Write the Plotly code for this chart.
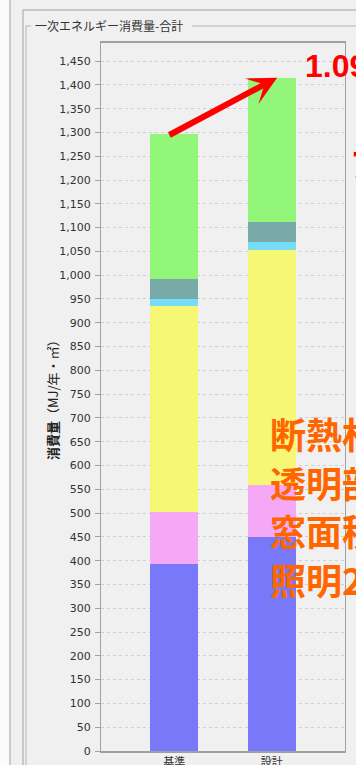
import plotly.graph_objects as go

# Primary energy consumption per floor area (MJ/年・㎡), stacked by end use
categories = ["基準", "設計"]
series_names = ["空調", "換気", "照明", "給湯", "昇降機", "その他"]
base_values = [393, 109, 433, 16, 41, 305]
design_values = [450, 109, 495, 16, 41, 304]
series_colors = ["#7878f8", "#f5a8f5", "#f7f776", "#78dcf7", "#78aaaa", "#92f778"]

y_tick_step = 50
y_max = 1488

notes = ["断熱材なし", "透明部", "窓面積", "照明20%"]

W, H = 356, 765
ML, MR, MT, MB = 101, 11, 43, 14
PW, PH = W - ML - MR, H - MT - MB


def px(x):
    return (x - ML) / PW


def py(y):
    return (H - MB - y) / PH


fig = go.Figure()
for name, color, b, d in zip(series_names, series_colors, base_values, design_values):
    fig.add_trace(go.Bar(
        x=categories, y=[b, d], name=name,
        marker=dict(color=color, line=dict(width=0)),
        width=0.49,
    ))

base_total = sum(base_values)
design_total = sum(design_values)
ratio = design_total / base_total

annotations = []
# Arrow from the reference total up to the design total
annotations.append(dict(
    x=1.055, y=design_total, xref="x", yref="y",
    ax=-0.065, ay=base_total - 4, axref="x", ayref="y",
    showarrow=True, arrowhead=3, arrowsize=0.8, arrowwidth=6,
    arrowcolor="#ff0000", text="",
))
annotations.append(dict(
    x=px(303), y=py(66), xref="paper", yref="paper",
    xanchor="left", yanchor="middle", showarrow=False,
    text=f"<b>{ratio:.2f}倍</b>",
    font=dict(family="Liberation Sans, Arial", size=32, color="#ff0000"),
))
annotations.append(dict(
    x=px(348), y=py(163), xref="paper", yref="paper",
    xanchor="left", yanchor="middle", showarrow=False,
    text="<b>アップ</b>",
    font=dict(family="Noto Sans CJK JP", size=34, color="#ff0000"),
))
for i, line in enumerate(notes):
    annotations.append(dict(
        x=px(268), y=py(433 + i * 48.7), xref="paper", yref="paper",
        xanchor="left", yanchor="middle", showarrow=False,
        text=f"<b>{line}</b>",
        font=dict(family="Noto Sans CJK JP", size=36, color="#ff6600"),
    ))
# Group box caption
annotations.append(dict(
    x=px(33), y=py(25), xref="paper", yref="paper",
    xanchor="left", yanchor="middle", showarrow=False,
    text="一次エネルギー消費量-合計",
    font=dict(family="Noto Sans CJK JP", size=12, color="#333333"),
))
# Y axis title
annotations.append(dict(
    x=px(52), y=0.5, xref="paper", yref="paper",
    xanchor="center", yanchor="middle", showarrow=False, textangle=-90,
    text="<b>消費量</b>（MJ/年・㎡）",
    font=dict(family="Noto Sans CJK JP", size=13, color="#222222"),
))

frame = "#a0a0a0"
shapes = [
    dict(type="rect", xref="paper", yref="paper", x0=px(0), x1=px(10), y0=py(0), y1=py(H),
         fillcolor="#fbfbfb", line=dict(width=0), layer="below"),
    dict(type="line", xref="paper", yref="paper", x0=px(10), x1=px(10), y0=py(0), y1=py(H),
         line=dict(color=frame, width=1)),
    dict(type="line", xref="paper", yref="paper", x0=px(23), x1=px(23), y0=py(10), y1=py(H),
         line=dict(color=frame, width=1)),
    dict(type="line", xref="paper", yref="paper", x0=px(23), x1=px(W), y0=py(10), y1=py(10),
         line=dict(color=frame, width=1)),
    dict(type="line", xref="paper", yref="paper", x0=px(26), x1=px(26), y0=py(26), y1=py(H),
         line=dict(color="#b4b4b4", width=1)),
    dict(type="line", xref="paper", yref="paper", x0=px(26), x1=px(31), y0=py(26), y1=py(26),
         line=dict(color="#b4b4b4", width=1)),
    dict(type="line", xref="paper", yref="paper", x0=px(192), x1=px(W), y0=py(26), y1=py(26),
         line=dict(color="#b4b4b4", width=1)),
]

fig.update_layout(
    width=W, height=H,
    margin=dict(l=ML, r=MR, t=MT, b=MB, autoexpand=False),
    barmode="stack",
    showlegend=False,
    paper_bgcolor="#f0f0f0",
    plot_bgcolor="#f0f0f0",
    annotations=annotations,
    shapes=shapes,
    xaxis=dict(
        range=[-0.75, 1.75], showgrid=False, zeroline=False,
        showline=True, linecolor="#a0a0a0", linewidth=2, mirror=True,
        ticks="", tickfont=dict(family="Noto Sans CJK JP", size=11, color="#333333"),
        automargin=False,
    ),
    yaxis=dict(
        range=[0, y_max], dtick=y_tick_step, tick0=0, tickformat=",d",
        showgrid=True, gridcolor="#cfcfcf", griddash="3px,3px", gridwidth=1,
        zeroline=False, showline=True, linecolor="#a0a0a0", linewidth=1, mirror=True,
        ticks="outside", ticklen=5, tickcolor="#a0a0a0", ticklabelstandoff=2,
        tickfont=dict(family="DejaVu Sans", size=11, color="#333333"),
        automargin=False,
    ),
)

fig.write_html("out.html")
